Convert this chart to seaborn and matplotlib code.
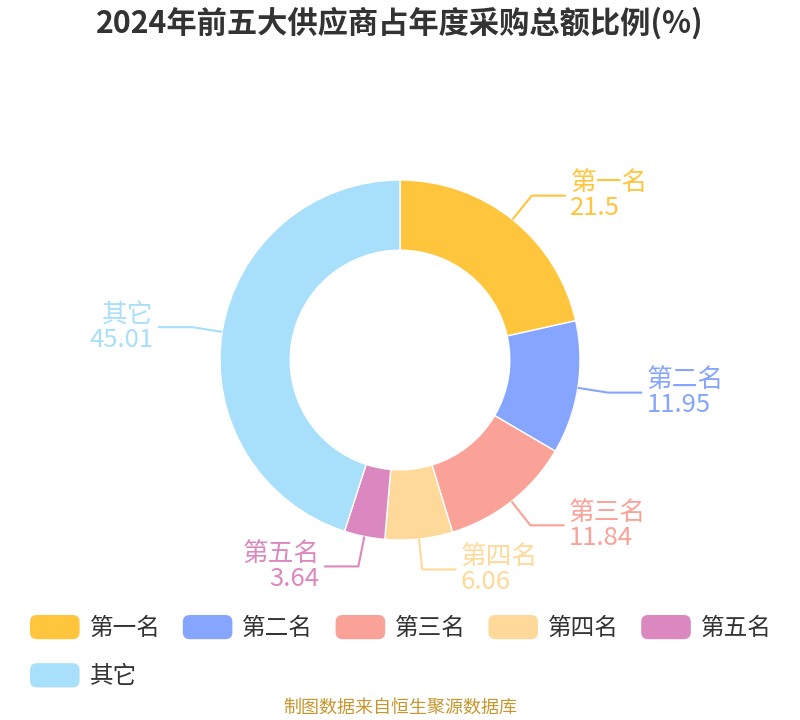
import numpy as np
import seaborn as sns
import matplotlib.pyplot as plt
from matplotlib.patches import FancyBboxPatch, Patch
from matplotlib.legend_handler import HandlerPatch

# data
names = ['第一名', '第二名', '第三名', '第四名', '第五名', '其它']
values = [21.5, 11.95, 11.84, 6.06, 3.64, 45.01]
colors = ['#FFC53D', '#85A5FF', '#FAA297', '#FFD999', '#DC88C0', '#A8DFFA']
title = '2024年前五大供应商占年度采购总额比例(%)'
source = '制图数据来自恒生聚源数据库'

sns.set_theme(style='white')
plt.rcParams['font.family'] = ['Noto Sans CJK SC', 'DejaVu Sans']
palette = sns.color_palette(colors)

W, H = 800, 720
R = 180.0  # outer radius in px
cx, cy = 400, 360

fig = plt.figure(figsize=(W / 100, H / 100), dpi=100)
ax = fig.add_axes([0, 0, 1, 1])

wedges, _ = ax.pie(values, colors=palette, startangle=90, counterclock=False,
                   radius=1, wedgeprops=dict(width=0.39, edgecolor='white', linewidth=1))
ax.set_xlim(-cx / R, (W - cx) / R)
ax.set_ylim(-(H - cy) / R, cy / R)
ax.set_aspect('equal')
ax.axis('off')

# leader lines + labels
for w, name, val, col in zip(wedges, names, values, palette):
    ang = np.deg2rad((w.theta1 + w.theta2) / 2)
    x0, y0 = np.cos(ang), np.sin(ang)
    x1, y1 = 1.17 * x0, 1.17 * y0
    side = 1 if x0 >= 0 else -1
    x2 = x1 + side * 0.19
    ax.plot([x0, x1, x2], [y0, y1, y1], color=col, lw=1.5, solid_capstyle='butt')
    ax.text(x2 + side * 0.025, y1, f'{name}\n{val:g}', color=col, fontsize=18.5,
            ha='left' if side > 0 else 'right', va='center', linespacing=0.95)

fig.text(0.5, 1 - 23 / H, title, ha='center', va='center', fontsize=21.8,
         fontweight='bold', color='#333333')


class RoundHandler(HandlerPatch):
    def create_artists(self, legend, orig_handle, xdescent, ydescent, width, height, fontsize, trans):
        p = FancyBboxPatch((-xdescent, -ydescent), width, height,
                           boxstyle='round,pad=0,rounding_size=5',
                           facecolor=orig_handle.get_facecolor(), edgecolor='none', transform=trans)
        return [p]


# legend fills column-wise, so reorder to get 5 items on the first row
order = [0, 5, 1, 2, 3, 4]
handles = [Patch(facecolor=palette[i]) for i in order]
labels = [names[i] for i in order]
leg = fig.legend(handles, labels, loc='upper left', bbox_to_anchor=(30 / W, 1 - 615 / H),
                 ncol=5, frameon=False, fontsize=17, handlelength=2.1, handleheight=1.2,
                 handletextpad=0.42, columnspacing=0.95, labelspacing=0.98, borderpad=0,
                 borderaxespad=0, handler_map={Patch: RoundHandler()})
for t in leg.get_texts():
    t.set_color('#333333')

fig.text(0.5, 1 - 708 / H, source, ha='center', va='center', fontsize=13, color='#C8962E')

plt.savefig('out.png', dpi=100)
